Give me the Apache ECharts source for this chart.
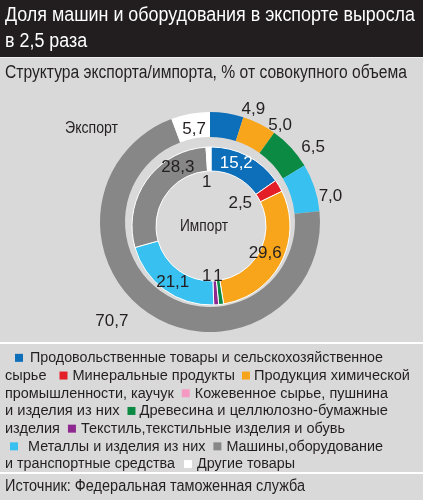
<!DOCTYPE html>
<html>
<head>
<meta charset="utf-8">
<title>Структура экспорта/импорта</title>
<script src="https://cdn.jsdelivr.net/npm/echarts@6/dist/echarts.min.js"></script>
<style>
	html, body { margin: 0; padding: 0; background: #d9d9d9; }
	#chart { width: 423px; height: 500px; }
</style>
</head>
<body>
<div id="chart"></div>
<script>
// узкого шрифта нет, поэтому подписи сжимаются по ширине через scaleX
var FONT = '"Liberation Sans", Arial, sans-serif';
var INK = '#231f20';

// товарные группы (порядок легенды)
var categories = [
	'Продовольственные товары и сельскохозяйственное сырье',
	'Минеральные продукты',
	'Продукция химической промышленности, каучук',
	'Кожевенное сырье, пушнина и изделия из них',
	'Древесина и целлюлозно-бумажные изделия',
	'Текстиль,текстильные изделия и обувь',
	'Металлы и изделия из них',
	'Машины,оборудование и транспортные средства',
	'Другие товары'
];
var colors = ['#0d6fba', '#e31e26', '#f8a51c', '#f49ac2', '#0b8a43', '#8e278f', '#37c0f0', '#878787', '#ffffff'];

// экспорт - внешнее кольцо (null - нет доли)
var exportValues = [4.9, null, 5.0, null, 6.5, null, 7.0, 70.7, 5.7];
// импорт - внутреннее кольцо
var importValues = [15.2, 2.5, 29.6, null, 1, 1, 21.1, 28.3, 1];

var exportName = 'Экспорт';
var importName = 'Импорт';
var titleLines = ['Доля машин и оборудования в экспорте выросла', 'в 2,5 раза'];
var subtitle = 'Структура экспорта/импорта, % от совокупного объема';
var source = 'Источник: Федеральная таможенная служба';

// подписи сдвинуты от середины сектора, как в оригинале
var exportLabelOffset = [[28, -13], null, [25, -7], null, [29, -7], null, [25, 6], [-45, 14], [2, 6]];
var importLabelOffset = [[-7, -1], [-31, 13], [-8, -5], null, [-2, -19], [-9, -20], [3, 0], [24, -18], [-2, 26]];

// строки легенды с переносами как в оригинале: {sq: i} - квадрат, {gap: n} - отступ
var legendLines = [
	[{gap: 10}, {sq: 0}, {gap: 7}, 'Продовольственные товары и сельскохозяйственное'],
	['сырье', {gap: 13}, {sq: 1}, {gap: 5}, 'Минеральные продукты', {gap: 7}, {sq: 2}, {gap: 4}, 'Продукция химической'],
	['промышленности, каучук', {gap: 8}, {sq: 3}, {gap: 5}, 'Кожевенное сырье, пушнина'],
	['и изделия из них', {gap: 8}, {sq: 4}, {gap: 4}, 'Древесина и целлюлозно-бумажные'],
	['изделия', {gap: 8}, {sq: 5}, {gap: 5}, 'Текстиль,текстильные изделия и обувь'],
	[{gap: 5}, {sq: 6}, {gap: 10}, 'Металлы и изделия из них', {gap: 8}, {sq: 7}, {gap: 5}, 'Машины,оборудование'],
	['и транспортные средства', {gap: 9}, {sq: 8}, {gap: 5}, 'Другие товары']
];
var legendLineEnds = [383, 410, 388, 388, 345, 383, 295];

var measureCtx = document.createElement('canvas').getContext('2d');
function textWidth(str, size) {
	measureCtx.font = size + 'px ' + FONT;
	return measureCtx.measureText(str).width;
}

function pieData(values, offsets, fmt, whiteIdx) {
	var data = [];
	for (var i = 0; i < values.length; i++) {
		if (values[i] == null) continue;
		data.push({
			name: categories[i],
			value: values[i],
			itemStyle: { color: colors[i] },
			label: {
				offset: offsets[i] || [0, 0],
				color: i === whiteIdx ? '#ffffff' : INK,
				formatter: fmt(values[i])
			}
		});
	}
	return data;
}

function fmtFixed(v) { return v.toFixed(1).replace('.', ','); }
function fmtPlain(v) { return String(v).replace('.', ','); }

// текст, сжатый до заданной ширины
function narrowText(str, x, y, size, width, color, lineHeight) {
	var w = 0;
	str.split('\n').forEach(function (s) { w = Math.max(w, textWidth(s, size)); });
	return {
		type: 'text', x: x, y: y, scaleX: width / w, z: 10,
		style: {
			text: str, fill: color, fontFamily: FONT, fontSize: size,
			lineHeight: lineHeight, align: 'left', verticalAlign: 'top'
		}
	};
}

var LEG_SIZE = 15.5;
var SQ = 8;
function legendLine(parts, x, y, endX) {
	var textW = 0, fixed = 0;
	parts.forEach(function (p) {
		if (typeof p === 'string') textW += textWidth(p, LEG_SIZE);
		else if (p.sq != null) fixed += SQ;
		else fixed += p.gap;
	});
	var s = (endX - x - fixed) / textW;
	var rich = {}, text = '';
	parts.forEach(function (p, n) {
		if (typeof p === 'string') {
			text += p;
		} else if (p.sq != null) {
			rich['t' + n] = { width: SQ / s, height: SQ, backgroundColor: colors[p.sq], verticalAlign: 'middle' };
			text += '{t' + n + '| }';
		} else {
			rich['t' + n] = { width: p.gap / s };
			text += '{t' + n + '| }';
		}
	});
	return {
		type: 'text', x: x, y: y, scaleX: s, z: 10,
		style: {
			text: text, fill: INK, fontFamily: FONT, fontSize: LEG_SIZE,
			lineHeight: 17.7, align: 'left', verticalAlign: 'top', rich: rich
		}
	};
}

var graphics = [
	{ type: 'rect', shape: { x: 0, y: 0, width: 423, height: 57 }, style: { fill: '#221e1f' } },
	{ type: 'line', shape: { x1: 0, y1: 57.5, x2: 423, y2: 57.5 }, style: { stroke: '#eeeeee', lineWidth: 1 } },
	{ type: 'line', shape: { x1: 0, y1: 343, x2: 423, y2: 343 }, style: { stroke: '#ffffff', lineWidth: 2 } },
	{ type: 'line', shape: { x1: 0, y1: 473, x2: 423, y2: 473 }, style: { stroke: '#ffffff', lineWidth: 2 } },
	narrowText(titleLines.join('\n'), 5, 2, 20, 410, '#ffffff', 26),
	narrowText(subtitle, 5, 63.5, 18, 402, INK, 20),
	narrowText(exportName, 65, 118, 17, 53, INK, 20),
	narrowText(importName, 180, 216, 17, 48, INK, 20),
	narrowText(source, 5, 477, 16, 300, INK, 20)
];
legendLines.forEach(function (parts, i) {
	graphics.push(legendLine(parts, 5, 349 + i * 17.7, legendLineEnds[i]));
});

var myChart = echarts.init(document.getElementById('chart'));
var option = {
	backgroundColor: '#d9d9d9',
	animation: false,
	graphic: graphics,
	series: [
		{
			name: exportName,
			type: 'pie',
			center: [210, 222],
			radius: [85, 110],
			startAngle: 90,
			avoidLabelOverlap: false,
			labelLayout: { hideOverlap: false },
			label: { position: 'inside', fontFamily: FONT, fontSize: 17 },
			labelLine: { show: false },
			emphasis: { disabled: true },
			data: pieData(exportValues, exportLabelOffset, fmtFixed, -1)
		},
		{
			name: importName,
			type: 'pie',
			center: [211, 226],
			radius: [55, 79],
			startAngle: 90,
			avoidLabelOverlap: false,
			labelLayout: { hideOverlap: false },
			itemStyle: { borderColor: '#ffffff', borderWidth: 1 },
			label: { position: 'inside', fontFamily: FONT, fontSize: 17 },
			labelLine: { show: false },
			emphasis: { disabled: true },
			data: pieData(importValues, importLabelOffset, fmtPlain, 0)
		}
	]
};
myChart.setOption(option);
</script>
</body>
</html>
